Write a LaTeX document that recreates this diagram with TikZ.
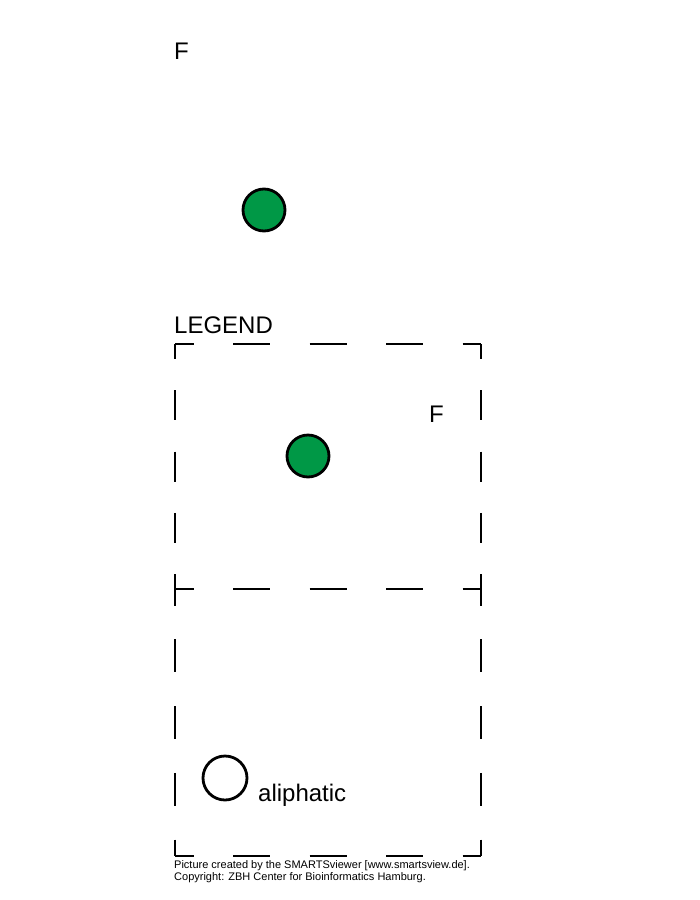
\documentclass[tikz,border=0pt]{standalone}
\usepackage{fontspec}
\setmainfont{Liberation Sans}
\usetikzlibrary{positioning}
\definecolor{atomgreen}{RGB}{0,152,70}
\tikzset{
  atom/.style={circle,draw,line width=2.8pt,minimum size=42pt,inner sep=0pt,fill=atomgreen},
  openatom/.style={atom,fill=none,minimum size=44pt},
  lbl/.style={anchor=base west,inner sep=0pt,font=\fontsize{24}{28}\selectfont},
  credit/.style={anchor=base west,inner sep=0pt,font=\fontsize{11}{13}\selectfont},
  hside/.style={line width=2.8pt,dash pattern=on 37pt off 39.5pt,dash phase=18.5pt},
  vupper/.style={line width=2.8pt,dash pattern=on 30pt off 31.25pt,dash phase=15pt},
  vlower/.style={line width=2.8pt,dash pattern=on 33pt off 33.75pt,dash phase=16.5pt},
}
\begin{document}
\begin{tikzpicture}[x=1pt,y=-1pt]
  \useasboundingbox (0,0) rectangle (700,900);
  % pattern
  \node[lbl] (fpat) at (174,59) {F};
  \node[atom] (apat) at (264,210) {};
  % legend
  \node[lbl] (leg) at (174,333) {LEGEND};
  \coordinate (tl) at (175,344); \coordinate (tr) at (481,344);
  \coordinate (ml) at (175,589); \coordinate (mr) at (481,589);
  \coordinate (bl) at (175,856); \coordinate (br) at (481,856);
  \draw[hside] (tl) -- (tr);
  \draw[hside] (ml) -- (mr);
  \draw[hside] (bl) -- (br);
  \draw[vupper] (tl) -- (ml);
  \draw[vupper] (tr) -- (mr);
  \draw[vlower] (ml) -- (bl);
  \draw[vlower] (mr) -- (br);
  \node[lbl] (fleg) at (429,422) {F};
  \node[atom] (aleg) at (308,456) {};
  \node[openatom] (aliph) at (225,778) {};
  \node[lbl] (aliphtxt) at (258,801) {aliphatic};
  % credits
  \node[credit] (cr1) at (174,868) {Picture created by the SMARTSviewer [www.smartsview.de].};
  \node[credit] (cr2) at (174,880) {Copyright: ZBH Center for Bioinformatics Hamburg.};
\end{tikzpicture}
\end{document}
